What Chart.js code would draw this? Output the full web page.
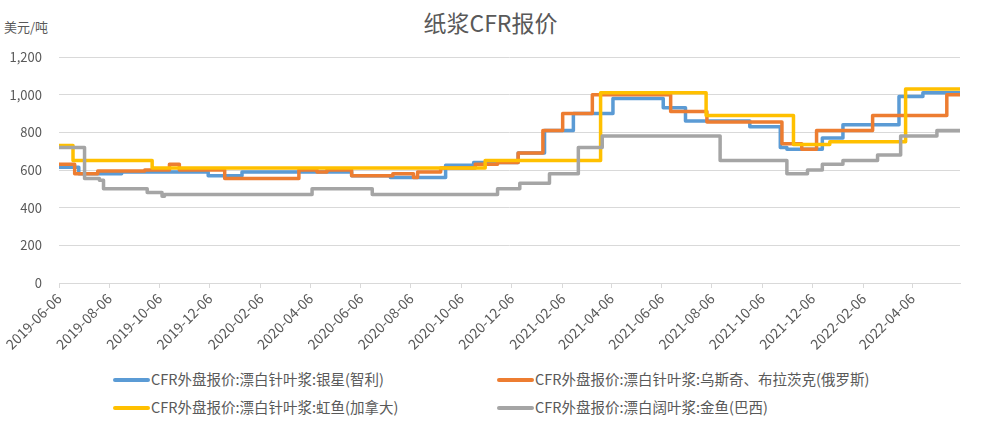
<!DOCTYPE html>
<html>
<head>
<meta charset="utf-8">
<script src="https://cdn.jsdelivr.net/npm/chart.js@4/dist/chart.umd.min.js"></script>
<style>
  body { margin: 0; background: #fff; }
  #wrap { position: relative; width: 981px; height: 421px; font-family: 'Noto Sans CJK SC', 'Noto Sans', sans-serif; color: #595959; }
  #title { position: absolute; left: 0; width: 981px; top: 6px; text-align: center; font-size: 23px; line-height: 32px; }
  #unit { position: absolute; left: 4px; top: 17px; font-size: 13px; line-height: 20px; }
  #legend { position: absolute; left: 0; top: 368px; width: 981px; height: 53px; font-size: 14.5px; }
  .item { position: absolute; height: 22px; line-height: 22px; white-space: nowrap; }
  .item span.mark { display: inline-block; width: 37px; height: 4px; border-radius: 2px; vertical-align: middle; margin-right: 1px; position: relative; top: -1px; }
</style>
</head>
<body>
<div id="wrap">
  <div id="title">纸浆CFR报价</div>
  <div id="unit">美元/吨</div>
  <div style="position:absolute;left:0;top:0;width:981px;height:365px">
    <canvas id="myChart" width="981" height="365"></canvas>
  </div>
  <div id="legend"></div>
</div>
<script>
// 银星(智利)
const silverStarDates = ['2019-06-06','2019-06-30','2019-08-21','2019-12-04','2020-01-14','2020-05-26','2020-07-12','2020-09-17','2020-10-21','2020-12-14','2021-01-15','2021-02-19','2021-04-08','2021-06-08','2021-07-05','2021-09-21','2021-10-28','2021-11-05','2021-12-18','2022-01-12','2022-03-21','2022-04-19','2022-06-03'];
const silverStarPrices = [615,580,590,570,590,570,560,625,640,690,810,900,980,930,860,830,720,710,770,840,990,1010,1010];

// 乌斯奇、布拉茨克(俄罗斯)
const ilimDates = ['2019-06-06','2019-06-25','2019-07-23','2019-09-18','2019-10-18','2019-10-30','2019-12-24','2020-03-23','2020-04-14','2020-04-26','2020-05-26','2020-07-15','2020-08-09','2020-08-14','2020-09-11','2020-10-23','2020-11-19','2020-12-14','2021-01-13','2021-02-06','2021-03-14','2021-06-17','2021-07-31','2021-10-30','2021-11-23','2021-12-11','2022-02-17','2022-05-18','2022-06-03'];
const ilimPrices = [630,580,595,600,630,600,555,600,590,600,570,580,560,590,610,630,640,690,810,900,1000,910,855,740,710,810,890,1000,1000];

// 虹鱼(加拿大)
const rainbowDates = ['2019-06-06','2019-06-23','2019-09-27','2020-11-04','2021-03-24','2021-07-30','2021-11-13','2021-12-27','2022-03-29','2022-06-03'];
const rainbowPrices = [730,650,610,650,1010,890,735,750,1030,1030];

// 金鱼(巴西) 阔叶浆
const goldfishDates = ['2019-06-06','2019-07-07','2019-07-25','2019-07-30','2019-09-21','2019-10-09','2019-10-12','2020-04-08','2020-06-20','2020-11-19','2020-12-16','2021-01-21','2021-02-25','2021-03-26','2021-08-16','2021-11-05','2021-11-30','2021-12-18','2022-01-12','2022-02-23','2022-03-23','2022-05-06','2022-06-03'];
const goldfishPrices = [720,555,545,500,480,460,470,500,470,500,530,580,720,780,650,580,600,630,650,680,780,810,810];

const seriesNames = [
  'CFR外盘报价:漂白针叶浆:银星(智利)',
  'CFR外盘报价:漂白针叶浆:乌斯奇、布拉茨克(俄罗斯)',
  'CFR外盘报价:漂白针叶浆:虹鱼(加拿大)',
  'CFR外盘报价:漂白阔叶浆:金鱼(巴西)'
];
const seriesColors = ['#5B9BD5', '#ED7D31', '#FFC000', '#A5A5A5'];

const xTickLabels = ['2019-06-06','2019-08-06','2019-10-06','2019-12-06','2020-02-06','2020-04-06','2020-06-06','2020-08-06','2020-10-06','2020-12-06','2021-02-06','2021-04-06','2021-06-06','2021-08-06','2021-10-06','2021-12-06','2022-02-06','2022-04-06'];
const xEnd = '2022-06-03';
const yTicks = [0, 200, 400, 600, 800, 1000, 1200];

// 日期 -> 距离起始日的天数
const startMs = Date.UTC(2019, 5, 6);
function dayIndex(s) {
  const p = s.split('-').map(Number);
  return (Date.UTC(p[0], p[1] - 1, p[2]) - startMs) / 86400000;
}
function toPoints(dates, values) {
  return dates.map((d, i) => ({ x: dayIndex(d), y: values[i] }));
}

const allDates = [silverStarDates, ilimDates, rainbowDates, goldfishDates];
const allPrices = [silverStarPrices, ilimPrices, rainbowPrices, goldfishPrices];

Chart.defaults.font.family = "'Noto Sans CJK SC', 'Noto Sans', sans-serif";
Chart.defaults.color = '#595959';

const datasets = seriesNames.map((name, i) => ({
  label: name,
  data: toPoints(allDates[i], allPrices[i]),
  borderColor: seriesColors[i],
  backgroundColor: seriesColors[i],
  borderWidth: 3.5,
  pointRadius: 0,
  stepped: true,
  borderJoinStyle: 'round',
  borderCapStyle: 'round',
  order: 4 - i // 后面的系列画在上层
}));

const ctx = document.getElementById('myChart').getContext('2d');
const myChart = new Chart(ctx, {
  type: 'line',
  data: { datasets: datasets },
  options: {
    responsive: false,
    animation: false,
    layout: { padding: { top: 57, right: 21, left: 0, bottom: 0 } },
    plugins: {
      legend: { display: false },
      title: { display: false },
      tooltip: { enabled: false }
    },
    scales: {
      x: {
        type: 'linear',
        min: 0,
        max: dayIndex(xEnd),
        afterFit: (scale) => { scale.height = 82; },
        afterBuildTicks: (scale) => {
          scale.ticks = xTickLabels.map(d => ({ value: dayIndex(d) }));
        },
        ticks: {
          autoSkip: false,
          minRotation: 45,
          maxRotation: 45,
          padding: 2,
          font: { size: 14 },
          color: '#595959',
          callback: (value) => {
            const idx = xTickLabels.findIndex(d => dayIndex(d) === value);
            return idx >= 0 ? xTickLabels[idx] : '';
          }
        },
        grid: { display: true, drawOnChartArea: false, drawTicks: true, tickLength: 5, color: '#d9d9d9' },
        border: { display: true, color: '#d9d9d9' }
      },
      y: {
        min: 0,
        max: 1200,
        afterFit: (scale) => { scale.width = 59; },
        afterBuildTicks: (scale) => {
          scale.ticks = yTicks.map(v => ({ value: v }));
        },
        ticks: {
          padding: 17,
          font: { size: 13 },
          color: '#595959',
          callback: (v) => v.toLocaleString('en-US')
        },
        grid: { color: '#d9d9d9', drawTicks: false, lineWidth: 1 },
        border: { display: false }
      }
    }
  }
});

// 图例 (两列两行)
const legendPos = [[113, 0], [497, 0], [113, 28], [497, 28]];
const legendBox = document.getElementById('legend');
seriesNames.forEach((name, i) => {
  const item = document.createElement('div');
  item.className = 'item';
  item.style.left = legendPos[i][0] + 'px';
  item.style.top = legendPos[i][1] + 'px';
  item.innerHTML = '<span class="mark" style="background:' + seriesColors[i] + '"></span>' + name;
  legendBox.appendChild(item);
});
</script>
</body>
</html>
